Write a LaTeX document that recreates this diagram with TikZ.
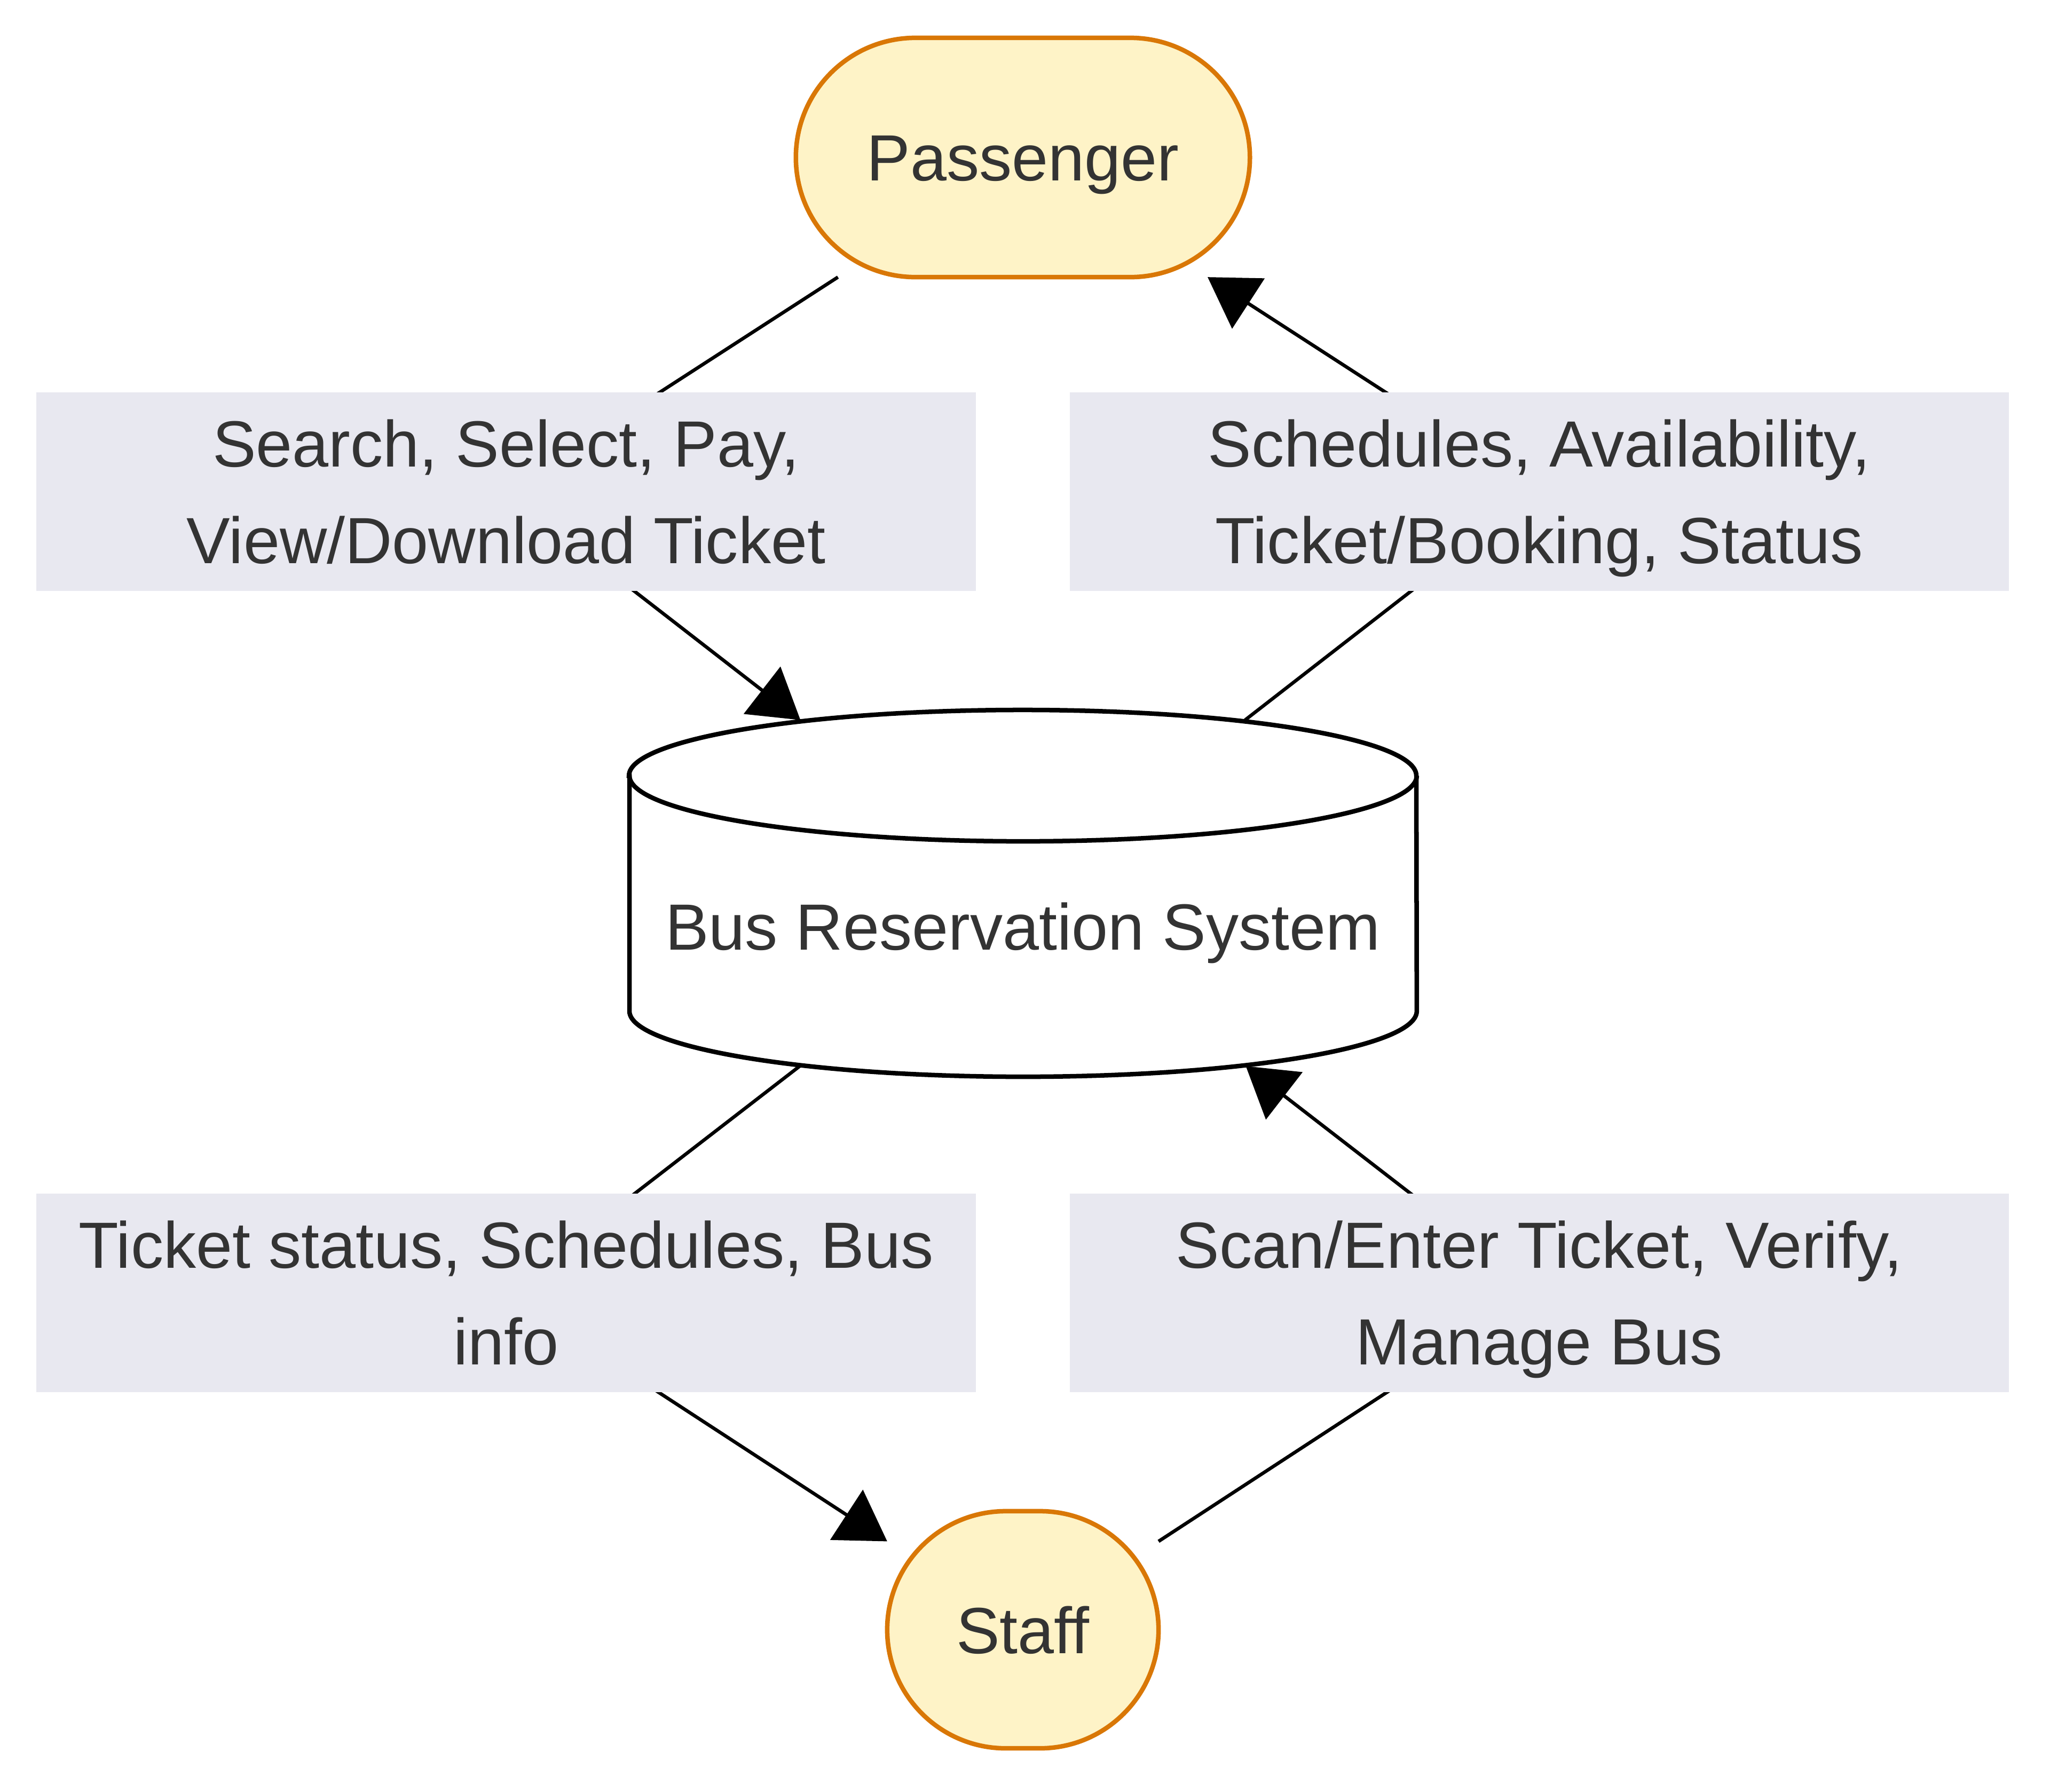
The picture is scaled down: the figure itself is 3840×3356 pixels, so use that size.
\documentclass[tikz,border=0pt]{standalone}
\usepackage{fontspec}
\setmainfont{Liberation Sans}
\usetikzlibrary{arrows.meta,backgrounds}
\definecolor{actfill}{RGB}{254,243,199}
\definecolor{actdraw}{RGB}{217,119,6}
\definecolor{lblbg}{RGB}{232,232,240}
\definecolor{txtc}{RGB}{51,51,51}
\begin{document}
\begin{tikzpicture}[x=0.01cm,y=-0.01cm,
  every node/.style={font=\fontsize{34.8pt}{51.5pt}\selectfont, text=txtc, inner sep=0pt, outer sep=0pt},
  actor/.style={draw=actdraw, fill=actfill, line width=0.085cm, rectangle, text height=25pt, text depth=0pt},
  lbl/.style={fill=lblbg, rectangle, minimum width=17.58cm, minimum height=3.72cm, align=center, text height=76.5pt, text depth=0pt},
  sysbox/.style={rectangle, minimum width=14.82cm, minimum height=6.48cm},
  plain/.style={text height=25pt, text depth=0pt},
  edge/.style={line width=0.064cm, -{Triangle[length=0.91cm, width=1.11cm]}}
]
\useasboundingbox (0,0) rectangle (3840,3356);

% Passenger and Staff
\node[actor, minimum width=8.50cm, minimum height=4.48cm, rounded corners=2.24cm] (pass) at (1916,295) {Passenger};
\node[actor, minimum width=5.08cm, minimum height=4.44cm, rounded corners=2.22cm] (staff) at (1916,3053) {Staff};

% Bus Reservation System (cylinder)
\node[sysbox] (brs) at (1916,1673) {};
\filldraw[fill=white, draw=black, line width=0.085cm]
  (1179,1453) -- (1179,1894)
  arc[start angle=180, end angle=360, x radius=7.37cm, y radius=1.23cm]
  -- (2653,1453)
  arc[start angle=0, end angle=180, x radius=7.37cm, y radius=1.23cm] -- cycle;
\draw[black, line width=0.085cm] (1179,1453)
  arc[start angle=180, end angle=360, x radius=7.37cm, y radius=1.23cm];
\node[plain] (brstext) at (1916,1736) {Bus Reservation System};

% Edge labels
\node[lbl] (l1) at (948,921) {Search, Select, Pay,\\View/Download Ticket};
\node[lbl] (l2) at (2883,921) {Schedules, Availability,\\Ticket/Booking, Status};
\node[lbl] (l3) at (948,2422) {Ticket status, Schedules, Bus\\info};
\node[lbl] (l4) at (2883,2422) {Scan/Enter Ticket, Verify,\\Manage Bus};

% Connectors
\begin{scope}[on background layer]
\draw[edge] (pass) -- (l1.center) -- (brs);
\draw[edge] (brs) -- (l2.center) -- (pass);
\draw[edge] (brs) -- (l3.center) -- (staff);
\draw[edge] (staff) -- (l4.center) -- (brs);
\end{scope}
\end{tikzpicture}
\end{document}
